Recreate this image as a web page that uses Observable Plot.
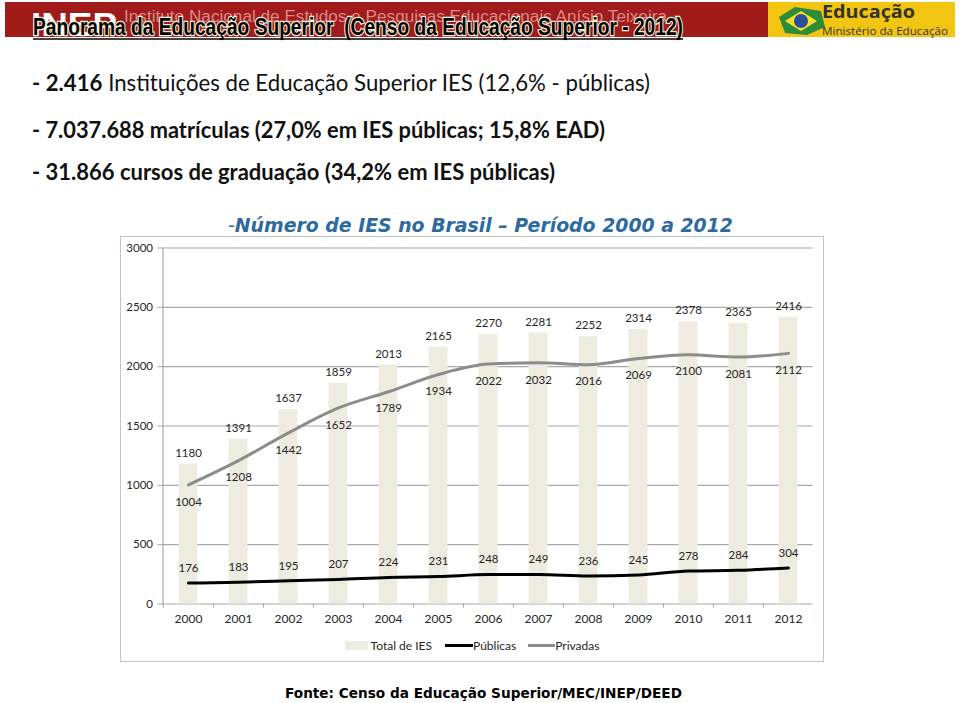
<!DOCTYPE html>
<html><head><meta charset="utf-8">
<script src="https://cdn.jsdelivr.net/npm/d3@7"></script>
<script src="https://cdn.jsdelivr.net/npm/@observablehq/plot@0.6"></script>
<style>
body{margin:0;background:#fff;width:960px;height:703px;overflow:hidden;position:relative;font-family:Lato,"Open Sans",sans-serif}
#bg{position:absolute;left:0;top:0}
#frame{position:absolute;left:120px;top:236px;width:704px;height:426px;border:1.5px solid #c4c4c4;box-sizing:border-box;background:#fff}
#chart{position:absolute;left:0;top:0}
#legend{position:absolute;left:0;right:0;top:401px;display:flex;justify-content:center;align-items:center;font:12px Lato,sans-serif;color:#262626}
#legend span.sw{display:inline-block}
</style>
</head><body>
<svg id="bg" width="960" height="703">
  <rect x="5" y="2" width="765" height="35" fill="#a11b1b"/>
  <text x="31" y="36" fill="#fff" font-family="Liberation Sans,Arial" font-weight="900" font-size="34" textLength="86" lengthAdjust="spacingAndGlyphs">INEP</text>
  <text x="124" y="22" fill="#d98a8a" font-family="Liberation Sans,Arial" font-size="16" textLength="543" lengthAdjust="spacingAndGlyphs">Instituto Nacional de Estudos e Pesquisas Educacionais Anísio Teixeira</text>
  <text x="33" y="35" fill="#000" stroke="#f4f0d8" stroke-width="2.5" paint-order="stroke" font-family="Liberation Sans Narrow,Liberation Sans,Arial" font-weight="bold" font-size="24" textLength="650" lengthAdjust="spacingAndGlyphs" xml:space="preserve">Panorama da Educação Superior  (Censo da Educação Superior - 2012)</text>
  <line x1="33" x2="683" y1="39" y2="39" stroke="#000" stroke-width="1.5"/>
  <rect x="768" y="2" width="187" height="35" fill="#f2c511"/>
  <g transform="translate(777,5)">
    <path d="M2 12 L18 2 L44 6 L48 22 L30 30 L8 28 Z" fill="#2e8b3a"/>
    <path d="M8 16 L24 6 L40 16 L24 26 Z" fill="#f7df2a"/>
    <circle cx="24" cy="16" r="7" fill="#2a4f9c"/>
  </g>
  <text x="822" y="18" fill="#333" font-family="Open Sans,Liberation Sans" font-weight="bold" font-size="17" textLength="93" lengthAdjust="spacingAndGlyphs">Educação</text>
  <text x="822" y="35" fill="#333" font-family="Open Sans,Liberation Sans" font-size="10.5" textLength="126" lengthAdjust="spacingAndGlyphs">Ministério da Educação</text>

  <text x="32" y="91" fill="#111" font-family="Lato,Open Sans" font-size="23" textLength="618" lengthAdjust="spacingAndGlyphs"><tspan font-weight="bold">- 2.416</tspan> Instituições de Educação Superior IES (12,6% - públicas)</text>
  <text x="32" y="138" fill="#111" font-family="Lato,Open Sans" font-weight="bold" font-size="23" textLength="573" lengthAdjust="spacingAndGlyphs">- 7.037.688 matrículas (27,0% em IES públicas; 15,8% EAD)</text>
  <text x="32" y="180" fill="#111" font-family="Lato,Open Sans" font-weight="bold" font-size="23" textLength="523" lengthAdjust="spacingAndGlyphs">- 31.866 cursos de graduação (34,2% em IES públicas)</text>

  <text x="228" y="232" fill="#2d6aa0" font-family="DejaVu Sans,Verdana" font-size="19" textLength="505" lengthAdjust="spacingAndGlyphs"><tspan>-</tspan><tspan font-weight="bold" font-style="italic">Número de IES no Brasil – Período 2000 a 2012</tspan></text>

  <text x="285" y="698" fill="#000" font-family="DejaVu Sans,Verdana" font-weight="bold" font-size="14" textLength="397" lengthAdjust="spacingAndGlyphs">Fonte: Censo da Educação Superior/MEC/INEP/DEED</text>
</svg>
<div id="frame">
  <div id="chart"></div>
  <div id="legend">
    <span class="sw" style="width:23px;height:9px;background:#eeece1;margin-right:3px"></span><span>Total de IES</span>
    <span class="sw" style="width:28px;height:3px;background:#000;margin-left:13px"></span><span>Públicas</span>
    <span class="sw" style="width:27px;height:3px;background:#8c8c8c;margin-left:12px"></span><span>Privadas</span>
  </div>
</div>
<script>
const years = ["2000","2001","2002","2003","2004","2005","2006","2007","2008","2009","2010","2011","2012"];
const totalIES = [1180,1391,1637,1859,2013,2165,2270,2281,2252,2314,2378,2365,2416];
const publicas = [176,183,195,207,224,231,248,249,236,245,278,284,304];
const privadas = [1004,1208,1442,1652,1789,1934,2022,2032,2016,2069,2100,2081,2112];
const yTicks = [0,500,1000,1500,2000,2500,3000];

const data = years.map((year, i) => ({year, total: totalIES[i], pub: publicas[i], priv: privadas[i]}));

const W = 701, H = 395, mL = 41.5, mR = 9.5, mT = 10.5, mB = 28.5;
const step = (W - mL - mR) / years.length;
const barW = 19;
const inset = (step - barW) / 2;
const lbl = "#262626";

const chart = Plot.plot({
  width: W, height: H,
  marginLeft: mL, marginRight: mR, marginTop: mT, marginBottom: mB,
  style: {fontFamily: "Lato, 'Open Sans', sans-serif", fontSize: "11.5px", color: lbl, background: "transparent"},
  x: {type: "band", domain: years, padding: 0, label: null},
  y: {domain: [0, 3000], label: null},
  marks: [
    Plot.ruleY(yTicks, {stroke: "#a8a8a8", strokeWidth: 1.2}),
    Plot.barY(data, {x: "year", y: "total", fill: "#eeece1", insetLeft: inset, insetRight: inset}),
    Plot.frame({anchor: "left", stroke: "#a8a8a8", strokeWidth: 1.2}),
    Plot.axisY({ticks: yTicks, tickSize: 5, tickPadding: 5, stroke: "#a8a8a8", fill: lbl, tickFormat: d => String(d)}),
    Plot.axisX({tickSize: 4, dx: -step / 2, stroke: "#a8a8a8", tickFormat: () => ""}),
    Plot.axisX({tickSize: 0, tickPadding: 10, fill: lbl, fontSize: 12}),
    Plot.lineY(data, {x: "year", y: "priv", stroke: "#8c8c8c", strokeWidth: 3, curve: "monotone-x"}),
    Plot.lineY(data, {x: "year", y: "pub", stroke: "#000", strokeWidth: 3, curve: "monotone-x"}),
    Plot.text(data, {x: "year", y: "total", text: d => String(d.total), dy: -11, fill: lbl}),
    Plot.text(data, {x: "year", y: "priv", text: d => String(d.priv), dy: 17, fill: lbl}),
    Plot.text(data, {x: "year", y: "pub", text: d => String(d.pub), dy: -15, fill: lbl})
  ]
});
document.getElementById("chart").appendChild(chart);
</script>
</body></html>
